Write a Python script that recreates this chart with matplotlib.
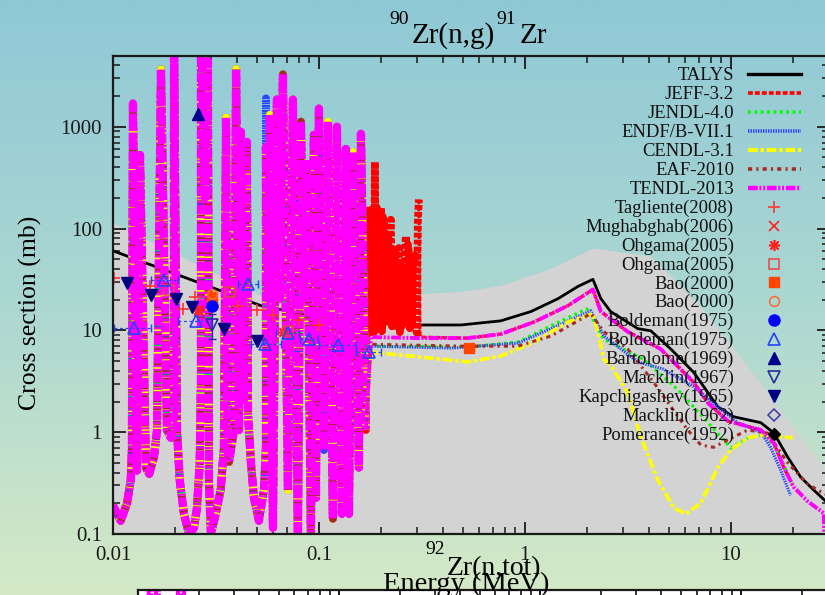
import matplotlib
matplotlib.use("Agg")
import numpy as np
import matplotlib.pyplot as plt
from matplotlib.lines import Line2D
from matplotlib.colors import LinearSegmentedColormap
from matplotlib.ticker import FixedLocator, FixedFormatter, LogLocator, NullFormatter

plt.rcParams["font.family"] = ["Liberation Serif", "DejaVu Serif"]
plt.rcParams["lines.scale_dashes"] = False

# ---------------------------------------------------------------- data
x_ticks = [0.01, 0.1, 1, 10]
x_tick_labels = ["0.01", "0.1", "1", "10"]
y_ticks = [0.1, 1, 10, 100, 1000]
y_tick_labels = ["0.1", "1", "10", "100", "1000"]

# resolved-resonance region, common to the evaluated libraries (MeV, mb)
res_E = [0.0100, 0.0109, 0.01169, 0.01219, 0.01236, 0.0125, 0.01307, 0.01352,
         0.01445, 0.0150, 0.01581, 0.01636, 0.0171, 0.01829, 0.01912, 0.01978,
         0.01978, 0.02045, 0.02109, 0.02211, 0.02339, 0.02473, 0.02557, 0.02636,
         0.02674, 0.02674, 0.0280, 0.0289, 0.02924, 0.0299, 0.03152, 0.03333,
         0.03458, 0.0354, 0.03616, 0.0366, 0.03867, 0.0396, 0.0409, 0.0418,
         0.0432, 0.0447, 0.04522, 0.04677, 0.04836, 0.0511, 0.05408, 0.0553,
         0.0553, 0.05655, 0.05782, 0.0598, 0.06253, 0.06466, 0.06687, 0.07071,
         0.07478, 0.07907, 0.08177, 0.08455, 0.08744, 0.09146, 0.09457, 0.0967,
         0.1000, 0.1057, 0.1106, 0.1169, 0.1223, 0.1293, 0.1352, 0.1399,
         0.1462, 0.1564, 0.1600, 0.1691]
res_xs = [0.19, 0.135, 0.199, 0.336, 0.71, 1690, 0.42, 527,
          0.45, 0.39, 0.568, 1.05, 3680, 1.05, 0.88, 1.55,
          8000, 1.05, 0.336, 0.158, 0.10, 0.115, 0.18, 0.495,
          3.3, 10000, 202, 4400, 0.336, 0.10, 0.158, 0.27,
          0.71, 1230, 0.67, 0.51, 1.05, 3680, 1.05, 890,
          2.1, 710, 1.55, 0.495, 0.227, 0.135, 0.27, 0.71,
          633, 20.5, 1316, 0.115, 1854, 20.5, 3281, 0.27,
          1854, 0.09, 1121, 20.5, 430, 0.09, 833, 0.227,
          1510, 0.67, 1121, 0.141, 1000, 0.158, 605, 0.158,
          565, 0.45, 853, 1.05]
endf_peak_E = 0.0553        # ENDF/B-VII.1 gives a taller resonance here
endf_peak_xs = 1900

# JEFF-3.2 resolved resonances extend further in energy
jeff_res_E = [0.1710, 0.1729, 0.1748, 0.1768, 0.1788, 0.1809, 0.1829, 0.1850,
              0.1870, 0.1891, 0.1912, 0.1933, 0.1955, 0.1977, 0.2000, 0.2022,
              0.2045, 0.2068, 0.2091, 0.2114, 0.2138, 0.2163, 0.2187, 0.2211,
              0.2236, 0.2261, 0.2287, 0.2313, 0.2339, 0.2365, 0.2391, 0.2418,
              0.2445, 0.2472, 0.2500, 0.2528, 0.2557, 0.2586, 0.2615, 0.2644,
              0.2674, 0.2704, 0.2735, 0.2766, 0.2797, 0.2828, 0.2860, 0.2892,
              0.2924, 0.2957, 0.2990, 0.3024, 0.3058]
jeff_res_xs = [150, 10.0, 120, 9.5, 153, 11.0, 95, 9.6,
               450, 12.0, 160, 10.5, 102, 11.5, 161, 9.8,
               130, 109, 12.0, 85, 13.0, 80.9, 14.0, 100,
               122, 11.0, 60, 10.0, 49.0, 67.4, 10.5, 55,
               64.4, 9.6, 45, 11.0, 40.7, 12.0, 50, 84.7,
               12.0, 70, 57.4, 10.5, 45, 11.0, 45.7, 50,
               54.8, 10.0, 9.5, 120, 193]

talys_E = [0.0100, 0.0522, 0.100, 0.200, 0.305, 0.489, 0.763, 1.07, 1.45, 1.81,
           2.14, 2.34, 2.61, 3.54, 4.09, 5.12, 6.61, 8.65, 10.3, 14.0, 16.2,
           18.9, 21.9, 25.3, 28.9, 30.0]
talys_xs = [60.5, 17.5, 13.5, 11.7, 11.3, 11.3, 12.4, 15.3, 20.5, 27.0,
            31.7, 20.5, 15.3, 10.4, 9.9, 6.55, 3.87, 1.78, 1.42, 1.24, 0.98,
            0.57, 0.36, 0.27, 0.21, 0.20]

jeff_E = [0.310, 0.529, 0.764, 1.11, 1.62, 2.14, 2.34, 3.16, 4.57, 6.61, 7.73,
          9.67, 14.0, 16.2, 18.1, 20.0]
jeff_xs = [8.6, 8.4, 9.2, 12.1, 17.5, 25.2, 15.3, 9.7, 6.55, 3.08, 1.95,
           1.29, 1.05, 0.78, 0.45, 0.30]

jendl_E = [0.179, 0.547, 0.925, 1.34, 2.00, 2.42, 3.78, 5.53, 7.40, 8.94, 10.0,
           12.1, 14.5, 16.9, 18.9, 20.0]
jendl_xs = [7.0, 6.9, 7.7, 11.1, 16.3, 8.2, 5.2, 2.62, 1.38, 0.90, 0.70,
            0.88, 0.94, 0.67, 0.39, 0.30]

endf_E = [0.179, 0.438, 0.925, 1.34, 2.09, 2.42, 3.54, 4.73, 6.61, 8.65, 10.8,
          14.0, 15.6, 17.5, 19.5]
endf_xs = [7.0, 6.7, 7.5, 10.4, 15.6, 8.8, 4.9, 4.15, 2.81, 1.78, 1.24,
           1.0, 0.71, 0.42, 0.24]

cendl_E = [0.179, 0.303, 0.529, 0.764, 1.11, 1.62, 2.14, 2.29, 2.42, 2.61, 2.83,
           3.16, 3.66, 4.42, 5.29, 6.05, 7.15, 8.65, 10.0, 12.1, 14.5, 20.0]
cendl_xs = [6.1, 5.5, 4.9, 5.6, 7.7, 12.1, 14.6, 8.8, 5.2, 4.6, 3.5,
            2.45, 0.90, 0.34, 0.18, 0.158, 0.20, 0.45, 0.67, 0.88, 0.94, 0.88]

eaf_E = [0.179, 0.489, 0.925, 1.34, 2.09, 2.42, 3.16, 4.23, 5.12, 6.18, 7.15,
         8.26, 9.67, 12.1, 15.1, 18.9, 23.6, 28.3, 30.0]
eaf_xs = [7.3, 7.0, 7.0, 8.8, 14.6, 9.7, 6.55, 3.08, 1.78, 1.05, 0.75,
          0.71, 0.84, 1.05, 0.98, 0.50, 0.31, 0.25, 0.24]

tendl_E = [0.179, 0.303, 0.529, 0.764, 1.11, 1.62, 2.14, 2.34, 3.16, 4.57, 6.61,
           7.73, 9.67, 14.0, 16.2, 18.1, 20.2, 23.6, 28.3, 28.6]
tendl_xs = [8.6, 8.4, 8.4, 9.2, 12.1, 17.5, 25.2, 15.3, 9.7, 6.55, 3.08,
            1.95, 1.29, 1.05, 0.78, 0.45, 0.29, 0.21, 0.16, 0.05]

# TALYS uncertainty band (upper edge)
band_E = [0.0100, 0.0523, 0.313, 0.489, 0.764, 1.34, 2.15, 4.09, 7.15, 13.5, 28.9, 30.0]
band_hi = [114, 22.0, 23.0, 24.1, 27.7, 40.8, 64.4, 53.6, 17.1, 3.3, 0.42, 0.38]

# experimental data (MeV, mb)
tagliente_E = [0.0101, 0.0151, 0.0219, 0.0250, 0.0403, 0.0498, 0.0600, 0.0802, 0.1003]
tagliente_xs = [32.4, 27.0, 16.3, 21.5, 17.5, 16.0, 14.3, 12.7, 11.3]
mughabghab_E = [0.0262]
mughabghab_xs = [15.6]
ohgama_a_E = [0.0259, 0.0669]
ohgama_a_xs = [16.0, 9.67]
ohgama_b_E = [0.0187, 0.0370, 0.0707]
ohgama_b_xs = [24.7, 23.6, 9.9]
bao_a_E = [0.0302, 0.535]
bao_a_xs = [21.5, 6.7]
bao_b_E = [0.0302]
bao_b_xs = [23.0]
boldeman_a_E = [0.0302]
boldeman_a_xs = [17.5]
boldeman_b_E = [0.01264, 0.01768, 0.02528, 0.04522, 0.0547, 0.0707, 0.0894, 0.1237, 0.1748]
boldeman_b_xs = [10.6, 31.0, 12.4, 28.3, 7.34, 9.45, 8.24, 7.18, 6.12]
boldeman_b_dE_lo = [0.00254, 0.0024, 0.0046, 0.0048, 0.0079, 0.0085, 0.0085, 0.0237, 0.0236]
boldeman_b_dE_hi = [0.00265, 0.0030, 0.0046, 0.0054, 0.0107, 0.0090, 0.0095, 0.0275, 0.0252]
bartolome_E = [0.0259]
bartolome_xs = [1346]
macklin67_E = [0.0302]
macklin67_xs = [11.3]
macklin67_dxs_lo = [3.1]
macklin67_dxs_hi = [3.3]
kapchigashev_E = [0.01169, 0.01529, 0.02022, 0.02418, 0.03458, 0.0500]
kapchigashev_xs = [28.9, 22.5, 20.5, 17.1, 10.4, 7.87]
macklin62_E = []
macklin62_xs = []
pomerance_E = []
pomerance_xs = []

# top of the neighbouring 92Zr(n,tot) panel
tot_E = [0.00110, 0.00115, 0.00120, 0.00125, 0.00130, 0.00155, 0.00160, 0.00166, 0.00172]
tot_xs = [10, 1e6, 10, 1e6, 10, 10, 1e6, 10, 1e6]

# ---------------------------------------------------------------- styles
lib_styles = {
    "TALYS": dict(color="black", lw=2.0, ls="-"),
    "JEFF-3.2": dict(color="#ff0000", lw=2.2, ls=(0, (3.5, 1.5))),
    "JENDL-4.0": dict(color="#00ff00", lw=2.2, ls=(0, (2.0, 2.6))),
    "ENDF/B-VII.1": dict(color="#2a48ff", lw=2.2, ls=(0, (1.0, 0.8))),
    "CENDL-3.1": dict(color="#ffff00", lw=2.6, ls=(0, (7, 2, 2.5, 2))),
    "EAF-2010": dict(color="#a52a2a", lw=2.2, ls=(0, (3, 3, 1.5, 3))),
    "TENDL-2013": dict(color="#ff00ff", lw=2.8, ls=(0, (7, 1.2, 1.5, 1.2, 1.5, 1.2))),
}
res_lw = 5.6    # stroke used in the dense resonance region
exp_styles = [
    ("Tagliente(2008)", dict(marker="+", color="#ff3535", mfc="#ff3535", ms=8, mew=1.2)),
    ("Mughabghab(2006)", dict(marker="x", color="#ff2020", mfc="#ff2020", ms=7, mew=1.2)),
    ("Ohgama(2005)", dict(marker=(8, 2, 0), color="#ff2020", mfc="#ff2020", ms=8, mew=1.2)),
    ("Ohgama(2005)", dict(marker="s", color="#e04848", mfc="none", ms=7, mew=1.1)),
    ("Bao(2000)", dict(marker="s", color="#ff4500", mfc="#ff4500", ms=7, mew=1.0)),
    ("Bao(2000)", dict(marker="o", color="#ff6a30", mfc="none", ms=7, mew=1.1)),
    ("Boldeman(1975)", dict(marker="o", color="#0000ff", mfc="#0000ff", ms=8, mew=1.0)),
    ("Boldeman(1975)", dict(marker="^", color="#2244ff", mfc="none", ms=8, mew=1.2)),
    ("Bartolome(1969)", dict(marker="^", color="#000090", mfc="#000090", ms=8, mew=1.0)),
    ("Macklin(1967)", dict(marker="v", color="#2a2aa0", mfc="none", ms=8, mew=1.2)),
    ("Kapchigashev(1965)", dict(marker="v", color="#000080", mfc="#000080", ms=8, mew=1.0)),
    ("Macklin(1962)", dict(marker="D", color="#3a3aa8", mfc="none", ms=6, mew=1.1)),
    ("Pomerance(1952)", dict(marker="D", color="black", mfc="black", ms=6, mew=1.0)),
]
exp_data = [
    (tagliente_E, tagliente_xs), (mughabghab_E, mughabghab_xs),
    (ohgama_a_E, ohgama_a_xs), (ohgama_b_E, ohgama_b_xs),
    (bao_a_E, bao_a_xs), (bao_b_E, bao_b_xs),
    (boldeman_a_E, boldeman_a_xs), (boldeman_b_E, boldeman_b_xs),
    (bartolome_E, bartolome_xs), (macklin67_E, macklin67_xs),
    (kapchigashev_E, kapchigashev_xs), (macklin62_E, macklin62_xs),
    (pomerance_E, pomerance_xs),
]

# ---------------------------------------------------------------- figure
W, H = 825, 595
fig = plt.figure(figsize=(W / 100, H / 100), dpi=100)


def fx(x):
    return x / W


def fy(y):
    return 1 - y / H


# page background gradient
bg = fig.add_axes([0, 0, 1, 1], zorder=-10)
page = LinearSegmentedColormap.from_list("page", ["#8fc8d6", "#abd7d2", "#d5e9c6"])
bg.imshow(np.linspace(0, 1, 256)[:, None], aspect="auto", cmap=page,
          extent=[0, 1, 0, 1], origin="upper")
bg.axis("off")

ax = fig.add_axes([fx(113), fy(534), (829 - 113) / W, (534 - 55.6) / H])
ax.set_facecolor("none")
ax.set_xscale("log")
ax.set_yscale("log")
ax.set_xlim(0.01, 30)
ax.set_ylim(0.1, 5000)

ax.fill_between(band_E, 0.01, band_hi, color="#d3d3d3", lw=0, zorder=1)

# TALYS
st = lib_styles["TALYS"]
ax.plot(talys_E, talys_xs, color=st["color"], lw=st["lw"], ls=st["ls"], zorder=2)

# evaluated libraries: resonance region (thick) + smooth region
libs = [
    ("JEFF-3.2", jeff_res_E, jeff_res_xs, jeff_E, jeff_xs, None),
    ("JENDL-4.0", [], [], jendl_E, jendl_xs, None),
    ("ENDF/B-VII.1", [], [], endf_E, endf_xs, (endf_peak_E, endf_peak_xs)),
    ("CENDL-3.1", [], [], cendl_E, cendl_xs, None),
    ("EAF-2010", [], [], eaf_E, eaf_xs, None),
    ("TENDL-2013", [], [], tendl_E, tendl_xs, None),
]
for i, (name, xE, xX, E, xs, peak) in enumerate(libs):
    st = lib_styles[name]
    rE = list(res_E) + list(xE)
    rX = list(res_xs) + list(xX)
    if peak is not None:
        rX[rE.index(peak[0], 48)] = peak[1]
    z = 2.2 + 0.1 * i
    ax.plot(rE, rX, color=st["color"], lw=res_lw + (0.4 if name == "TENDL-2013" else 0),
            ls=st["ls"], zorder=z)
    ax.plot([rE[-1]] + list(E), [rX[-1]] + list(xs), color=st["color"], lw=st["lw"],
            ls=st["ls"], zorder=z + 1)

# experimental points
for (name, st), (E, xs) in zip(exp_styles, exp_data):
    if len(E) == 0:
        continue
    ax.plot(E, xs, ls="none", zorder=5, **st)

eb = ax.errorbar(boldeman_b_E, boldeman_b_xs, xerr=[boldeman_b_dE_lo, boldeman_b_dE_hi],
                 fmt="none", ecolor="#2244ff", elinewidth=0.9, capsize=3, zorder=4.5)
eb[2][0].set_linestyle((0, (2, 2)))
ax.errorbar(macklin67_E, macklin67_xs, yerr=[macklin67_dxs_lo, macklin67_dxs_hi],
            fmt="none", ecolor="#2a2aa0", elinewidth=0.9, capsize=3, zorder=4.5)

# axes decoration
for s in ax.spines.values():
    s.set_linewidth(1.6)
    s.set_color("#1a1a1a")
    s.set_zorder(10)
ax.xaxis.set_major_locator(FixedLocator(x_ticks))
ax.xaxis.set_major_formatter(FixedFormatter(x_tick_labels))
ax.yaxis.set_major_locator(FixedLocator(y_ticks))
ax.yaxis.set_major_formatter(FixedFormatter(y_tick_labels))
ax.xaxis.set_minor_locator(LogLocator(base=10, subs=range(2, 10), numticks=20))
ax.yaxis.set_minor_locator(LogLocator(base=10, subs=range(2, 10), numticks=20))
ax.xaxis.set_minor_formatter(NullFormatter())
ax.yaxis.set_minor_formatter(NullFormatter())
ax.tick_params(which="both", direction="in", top=True, right=True,
               labelsize=15, colors="#1a1a1a")
ax.tick_params(axis="x", which="major", pad=9)
ax.tick_params(axis="y", which="major", pad=8)
ax.tick_params(which="major", length=9, width=1.3)
ax.tick_params(which="minor", length=5, width=1.1)

# key in gnuplot layout: text right-justified, sample on the right
row0, drow = 74, 18.95
rows = [(name, "line", lib_styles[name]) for name in lib_styles] + \
       [(name, "mark", st) for name, st in exp_styles]
for i, (name, kind, st) in enumerate(rows):
    yr = row0 + i * drow
    fig.text(fx(734), fy(yr + 6), name, ha="right", va="baseline",
             fontsize=13.4, color="#111111", zorder=20)
    if kind == "line":
        fig.add_artist(Line2D([fx(748), fx(801)], [fy(yr), fy(yr)],
                              color=st["color"], lw=st["lw"] + 0.4, ls=st["ls"],
                              transform=fig.transFigure, zorder=20))
    else:
        fig.add_artist(Line2D([fx(774)], [fy(yr)], ls="none",
                              transform=fig.transFigure, zorder=20, **st))

# titles and labels
fig.text(fx(389), fy(19), "90", ha="left", va="center", fontsize=14)
fig.text(fx(412), fy(43), "Zr(n,g)", ha="left", va="baseline", fontsize=21)
fig.text(fx(496), fy(19), "91", ha="left", va="center", fontsize=14)
fig.text(fx(520), fy(43), "Zr", ha="left", va="baseline", fontsize=21)
fig.text(fx(30), fy(313), "Cross section (mb)", rotation=90, ha="center",
         va="center", fontsize=18.5)

# neighbouring panel peeking in at the bottom
ax2 = fig.add_axes([fx(138), fy(900), (831 - 138) / W, (900 - 590) / H], zorder=1)
ax2.set_facecolor("white")
ax2.set_xscale("log")
ax2.set_yscale("log")
ax2.set_xlim(0.001, 2.8)
ax2.set_ylim(0.1, 1e4)
ax2.plot(tot_E, tot_xs, color="#ff00ff", lw=2.8, ls=(0, (7, 1.2, 1.5, 1.2)))
for s in ax2.spines.values():
    s.set_linewidth(1.6)
    s.set_color("#1a1a1a")
ax2.xaxis.set_minor_locator(LogLocator(base=10, subs=range(2, 10), numticks=20))
ax2.tick_params(which="both", direction="in", top=True, bottom=False,
                labelbottom=False, left=False, labelleft=False)
ax2.tick_params(which="major", length=9, width=1.3)
ax2.tick_params(which="minor", length=5, width=1.1)

fig.text(fx(425), fy(549), "92", ha="left", va="center", fontsize=14, zorder=30)
fig.text(fx(447), fy(575), "Zr(n,tot)", ha="left", va="baseline", fontsize=20, zorder=30)
fig.text(fx(383), fy(591), "Energy (MeV)", ha="left", va="baseline", fontsize=20.5, zorder=30)

fig.savefig("out.png", dpi=100)
